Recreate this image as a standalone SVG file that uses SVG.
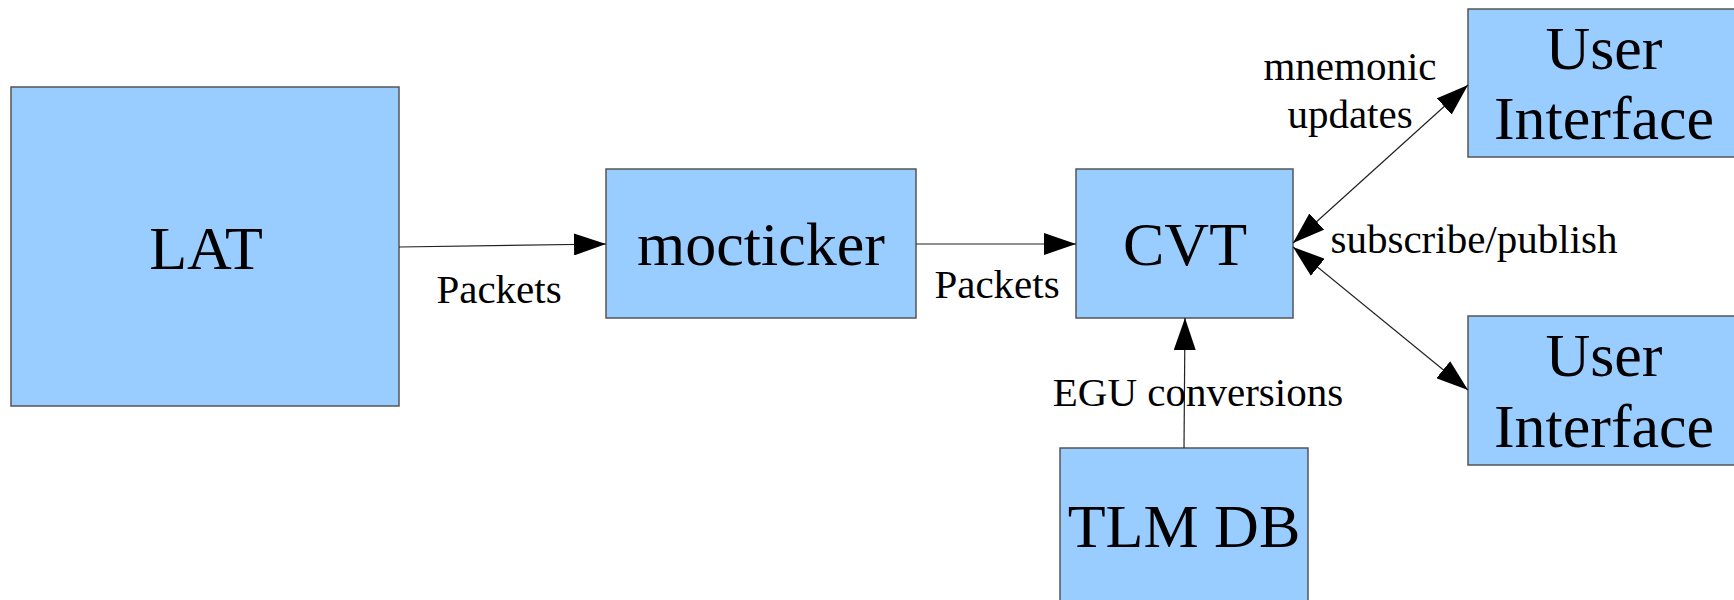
<svg xmlns="http://www.w3.org/2000/svg" width="1734" height="600" viewBox="0 0 1734 600">
  <style>
    .box { fill: #99ccff; stroke: #555; stroke-width: 1.5; }
    .big { font-family: "Liberation Serif", serif; font-size: 62px; fill: #000; text-anchor: middle; }
    .lbl { font-family: "Liberation Serif", serif; font-size: 41px; fill: #000; text-anchor: middle; }
    .conn { stroke: #222; stroke-width: 1.2; fill: none; }
  </style>
  <defs>
    <marker id="arr" markerUnits="userSpaceOnUse" markerWidth="32" markerHeight="22" refX="32" refY="11" orient="auto-start-reverse" viewBox="0 0 32 22">
      <path d="M0,0 L32,11 L0,22 z" fill="#000"/>
    </marker>
  </defs>
  <rect width="1734" height="600" fill="#fff"/>

  <g id="lat">
    <rect class="box" x="11" y="87" width="388" height="319"/>
    <text class="big" x="206" y="269">LAT</text>
  </g>
  <g id="mocticker">
    <rect class="box" x="606" y="169" width="310" height="149"/>
    <text class="big" x="761" y="265">mocticker</text>
  </g>
  <g id="cvt">
    <rect class="box" x="1076" y="169" width="217" height="149"/>
    <text class="big" x="1185" y="265">CVT</text>
  </g>
  <g id="tlmdb">
    <rect class="box" x="1060" y="448" width="248" height="170"/>
    <text class="big" x="1184" y="547">TLM DB</text>
  </g>
  <g id="ui1">
    <rect class="box" x="1468" y="9" width="280" height="148"/>
    <text class="big" x="1604" y="69">User</text>
    <text class="big" x="1604" y="139">Interface</text>
  </g>
  <g id="ui2">
    <rect class="box" x="1468" y="316" width="280" height="149"/>
    <text class="big" x="1604" y="376">User</text>
    <text class="big" x="1604" y="447">Interface</text>
  </g>

  <g id="connectors">
    <line class="conn" x1="399" y1="247" x2="606" y2="244" marker-end="url(#arr)"/>
    <line class="conn" x1="916" y1="244" x2="1076" y2="244" marker-end="url(#arr)"/>
    <line class="conn" x1="1184" y1="448" x2="1185" y2="318" marker-end="url(#arr)"/>
    <line class="conn" x1="1293" y1="243" x2="1468" y2="85" marker-start="url(#arr)" marker-end="url(#arr)"/>
    <line class="conn" x1="1293" y1="247" x2="1468" y2="390" marker-start="url(#arr)" marker-end="url(#arr)"/>
  </g>

  <g id="labels">
    <text class="lbl" x="499" y="303">Packets</text>
    <text class="lbl" x="997" y="298">Packets</text>
    <text class="lbl" x="1198" y="406">EGU conversions</text>
    <text class="lbl" x="1350" y="80">mnemonic</text>
    <text class="lbl" x="1350" y="128">updates</text>
    <text class="lbl" x="1474" y="253">subscribe/publish</text>
  </g>
</svg>
